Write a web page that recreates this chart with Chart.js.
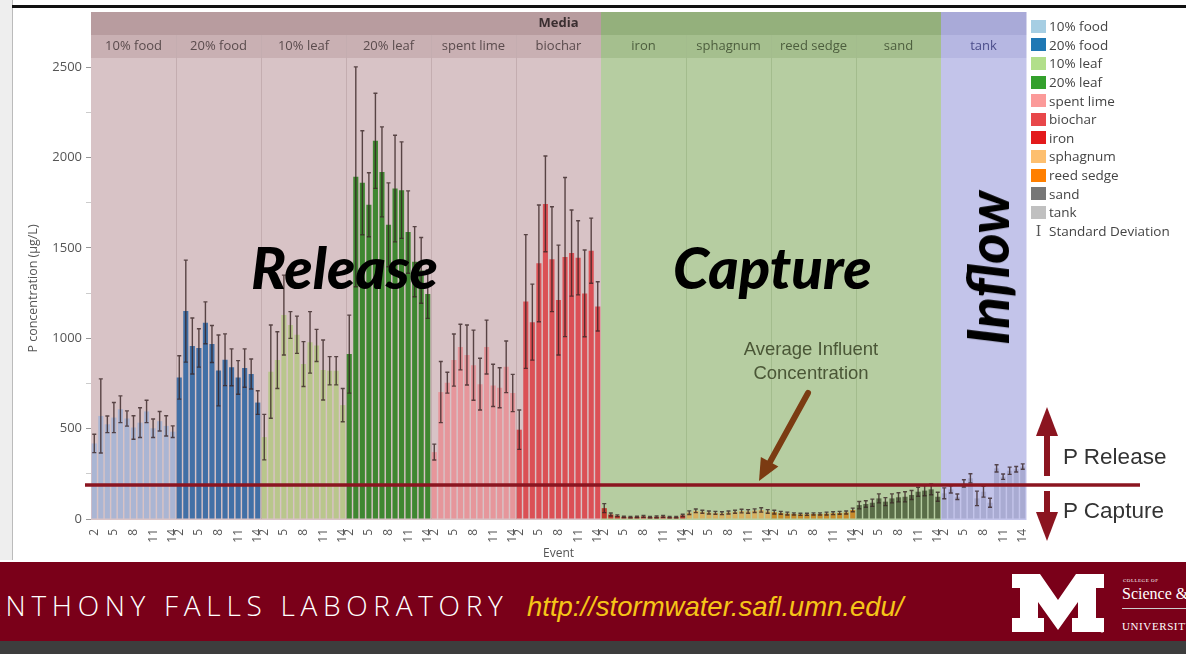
<!DOCTYPE html>
<html><head><meta charset="utf-8">
<script src="https://cdn.jsdelivr.net/npm/chart.js@4"></script>
<style>
html,body{margin:0;padding:0;width:1186px;height:654px;overflow:hidden;background:#fff;font-family:"Open Sans",sans-serif}
#side{position:absolute;left:0;top:0;width:12px;height:560px;background:#eeeeee;border-right:1px solid #bbb}
#topline{position:absolute;left:12px;top:5px;width:1174px;height:3px;background:#111}
#wrap{position:absolute;left:0;top:0;width:1186px;height:565px}
#c{position:absolute;left:0;top:0}
.ov{position:absolute;white-space:nowrap;pointer-events:none}
.big{font-family:Lato,"Open Sans",sans-serif;font-weight:900;font-style:italic;font-size:58px;color:#000;line-height:1}
#legend{position:absolute;left:1031px;top:17px;font-family:"Open Sans",sans-serif;font-size:13.5px;color:#444}
#legend div{height:18.6px;line-height:18px;display:flex;align-items:center}
#legend span.sw{display:inline-block;width:15px;height:13px;margin-right:3px}
#banner{position:absolute;left:0;top:562px;width:1186px;height:79px;background:#7a0019;overflow:hidden}
#bottom{position:absolute;left:0;top:641px;width:1186px;height:13px;background:#3d3d3d}
#afl{position:absolute;left:-17px;top:29px;color:#fff;font-family:"Open Sans",sans-serif;font-weight:300;font-size:28px;letter-spacing:5.7px;line-height:1}
#url{position:absolute;left:527px;top:31px;color:#f5c518;font-family:"Liberation Sans",Arial,sans-serif;font-style:italic;font-size:27.5px;line-height:1}
</style></head>
<body>
<div id="side"></div>
<div id="topline"></div>
<div id="wrap"><canvas id="c" width="1186" height="565"></canvas></div>

<div class="ov big" style="left:251px;top:238px">Release</div>
<div class="ov big" style="left:673px;top:238px">Capture</div>
<div class="ov big" style="left:987px;top:268px;transform:translate(-50%,-50%) rotate(-90deg)">Inflow</div>
<div class="ov" style="left:811px;top:337px;transform:translateX(-50%);text-align:center;font-family:'Liberation Sans',Arial,sans-serif;font-size:18.5px;line-height:24px;color:#4a5636">Average Influent<br>Concentration</div>
<div class="ov" style="left:1063px;top:444px;font-family:'Liberation Sans',Arial,sans-serif;font-size:22.5px;color:#333">P Release</div>
<div class="ov" style="left:1063px;top:498px;font-family:'Liberation Sans',Arial,sans-serif;font-size:22.5px;color:#333">P Capture</div>

<div id="legend"></div>

<div id="banner">
  <div id="afl">ANTHONY FALLS LABORATORY</div>
  <div id="url">http://stormwater.safl.umn.edu/</div>
  <svg style="position:absolute;left:1010px;top:12px" width="96" height="62" viewBox="0 0 96 62">
    <path fill="#fff" d="M2 0 H30 L48 26 L66 0 H94 V14 H86 V44 H94 V58 H62 V44 H68 V28 L48 56 L28 28 V44 H34 V58 H2 V44 H10 V14 H2 Z"/>
    <circle cx="92" cy="57" r="1.6" fill="#fff"/>
  </svg>
  <div class="ov" style="left:1123px;top:16px;color:#fff;font-size:5px;letter-spacing:0.5px;font-family:'Liberation Serif',serif">COLLEGE OF</div>
  <div class="ov" style="left:1122px;top:23px;color:#fff;font-size:16px;font-family:'Liberation Serif',serif">Science &amp;</div>
  <div class="ov" style="left:1122px;top:46px;width:70px;height:1px;background:#ccc"></div>
  <div class="ov" style="left:1122px;top:58px;color:#fff;font-size:11px;letter-spacing:0.6px;font-family:'Liberation Serif',serif">UNIVERSITY</div>
</div>
<div id="bottom"></div>

<script>
// ---------- data ----------
const media = ['10% food','20% food','10% leaf','20% leaf','spent lime','biochar','iron','sphagnum','reed sedge','sand','tank'];
const events = [2,3,4,5,6,7,8,9,10,11,12,13,14];
const shownEvents = [2,5,8,11,14];
const yTickValues = [0,250,500,750,1000,1250,1500,1750,2000,2250,2500];
const yTickLabels = [0,500,1000,1500,2000,2500];

const food10   = [418,570,524,561,607,556,506,533,595,502,541,515,483];
const food10Sd = [51,205,46,83,74,42,65,82,62,51,54,56,32];
const food20   = [783,1150,957,946,1085,968,822,881,839,783,835,802,644];
const food20Sd = [120,282,155,106,116,102,196,143,102,93,106,83,65];
const leaf10   = [453,815,879,1128,1073,1019,857,977,960,824,820,820,630];
const leaf10Sd = [126,258,157,221,74,103,124,170,89,166,78,78,92];
const leaf20   = [912,1893,1860,1738,2092,1920,1627,1828,1819,1587,1423,1375,1244];
const leaf20Sd = [216,608,288,177,263,249,232,295,267,228,194,182,134];
const lime     = [370,702,754,879,951,907,851,746,951,739,726,842,697];
const limeSd   = [44,169,58,144,126,166,194,143,149,117,111,143,103];
const biochar  = [494,1203,1089,1414,1743,1437,1211,1449,1471,1445,1248,1484,1176];
const biocharSd= [109,370,210,323,265,290,304,440,238,205,240,180,136];
const iron     = [60,25,18,12,10,12,14,10,12,14,10,10,20];
const ironSd   = [25,8,5,4,4,4,5,4,5,5,4,4,6];
const sphagnum = [35,45,40,36,34,32,36,40,44,42,46,50,42];
const sphagnumSd=[10,10,8,8,8,8,8,8,10,10,10,12,10];
const reed     = [38,34,30,28,26,26,28,28,30,32,34,36,50];
const reedSd   = [10,8,8,6,6,6,6,6,8,8,8,8,10];
const sand     = [77,83,90,114,96,114,120,123,133,151,157,164,123];
const sandSd   = [20,18,20,25,22,25,25,28,25,25,28,30,25];
const tank     = [142,164,123,197,225,114,151,90,280,234,267,275,290];
const tankSd   = [30,20,15,20,25,40,30,25,20,15,20,15,15];
const avgInfluent = 188;

const means = [food10,food20,leaf10,leaf20,lime,biochar,iron,sphagnum,reed,sand,tank];
const sds   = [food10Sd,food20Sd,leaf10Sd,leaf20Sd,limeSd,biocharSd,ironSd,sphagnumSd,reedSd,sandSd,tankSd];

// ---------- styles ----------
const barColors = ['#aab5d3','#4270a6','#b9c68c','#3f8731','#e6969b','#db5055','#c0392b','#d8b060','#c88a2a','#5a6e48','#a9abd2'];
const legendColors = ['#a6cee3','#1f78b4','#b2df8a','#33a02c','#fb9a99','#e8474a','#e31a1c','#fdbf6f','#ff7f00','#777777','#c0c0c0'];
const panelKind = [0,0,0,0,0,0,1,1,1,1,2];
const panelBg  = ['#d8c3c6','#b6cda1','#c3c4ea'];
const headTop  = ['#b89c9f','#94b07c','#a9aad8'];
const headSub  = ['#c9b0b3','#a5bf8e','#b6b7e2'];
const sepCol   = ['#c4adb0','#a3bc8d','#adaede'];
const headTxt  = ['#5a4b4d','#4d5e3e','#4a4c8a'];

const n = events.length;
const labels = [];
media.forEach(m => events.forEach(e => labels.push(m + '|' + e)));

const datasets = media.map((m, g) => {
  const d = new Array(labels.length).fill(null);
  means[g].forEach((v, j) => d[g * n + j] = v);
  return {label: m, data: d, backgroundColor: barColors[g], grouped: false,
          categoryPercentage: 1, barPercentage: 0.78};
});

// legend
const lg = document.getElementById('legend');
media.forEach((m, g) => {
  lg.insertAdjacentHTML('beforeend', `<div><span class="sw" style="background:${legendColors[g]}"></span>${m}</div>`);
});
lg.insertAdjacentHTML('beforeend', `<div><span style="display:inline-block;width:15px;margin-right:3px;text-align:center;font-family:'DejaVu Serif',serif;font-size:14px;color:#555">I</span>Standard Deviation</div>`);

const isMajor = v => yTickLabels.includes(Math.round(v));

const panels = {
  id: 'panels',
  beforeDatasetsDraw(chart) {
    const {ctx, chartArea: {top, bottom}, scales: {x}} = chart;
    const step = x.getPixelForValue(1) - x.getPixelForValue(0);
    const hTop = 12, hMid = 35;
    media.forEach((m, g) => {
      const k = panelKind[g];
      const x0 = x.getPixelForValue(g * n) - step / 2;
      const x1 = x.getPixelForValue(g * n + n - 1) + step / 2;
      ctx.save();
      ctx.fillStyle = headTop[k]; ctx.fillRect(x0, hTop, x1 - x0 + 0.5, hMid - hTop);
      ctx.fillStyle = headSub[k]; ctx.fillRect(x0, hMid, x1 - x0 + 0.5, top - hMid);
      ctx.fillStyle = panelBg[k]; ctx.fillRect(x0, top, x1 - x0 + 0.5, bottom - top + 1);
      if (g > 0 && panelKind[g - 1] === k) {
        ctx.strokeStyle = sepCol[k]; ctx.lineWidth = 1;
        ctx.beginPath(); ctx.moveTo(Math.round(x0) + 0.5, hMid); ctx.lineTo(Math.round(x0) + 0.5, bottom); ctx.stroke();
      }
      ctx.fillStyle = headTxt[k];
      ctx.font = '13px "Open Sans", sans-serif';
      ctx.textAlign = 'center'; ctx.textBaseline = 'middle';
      ctx.fillText(m, (x0 + x1) / 2, (hMid + top) / 2);
      ctx.restore();
    });
    const xl = x.getPixelForValue(0) - step / 2;
    const xr = x.getPixelForValue(labels.length - 1) + step / 2;
    ctx.save();
    ctx.fillStyle = '#3a2e30';
    ctx.font = 'bold 13px "Open Sans", sans-serif';
    ctx.textAlign = 'center'; ctx.textBaseline = 'middle';
    ctx.fillText('Media', (xl + xr) / 2, (hTop + hMid) / 2);
    ctx.restore();
  },
  afterDatasetsDraw(chart) {
    const {ctx, scales: {y}} = chart;
    ctx.save();
    ctx.strokeStyle = 'rgba(55,35,35,0.8)';
    ctx.lineWidth = 1.4;
    media.forEach((m, g) => {
      const meta = chart.getDatasetMeta(g);
      means[g].forEach((v, j) => {
        const el = meta.data[g * n + j];
        if (!el) return;
        const sd = sds[g][j];
        const xp = el.x;
        const yt = y.getPixelForValue(v + sd), yb = y.getPixelForValue(Math.max(0, v - sd));
        ctx.beginPath();
        ctx.moveTo(xp, yt); ctx.lineTo(xp, yb);
        ctx.moveTo(xp - 2, yt); ctx.lineTo(xp + 2, yt);
        ctx.moveTo(xp - 2, yb); ctx.lineTo(xp + 2, yb);
        ctx.stroke();
      });
    });
    ctx.restore();
  },
  afterDraw(chart) {
    const {ctx, scales: {y}} = chart;
    ctx.save();
    const ya = y.getPixelForValue(avgInfluent);
    ctx.strokeStyle = '#8b1520'; ctx.lineWidth = 3.5;
    ctx.beginPath(); ctx.moveTo(85, ya); ctx.lineTo(1140, ya); ctx.stroke();
    ctx.strokeStyle = '#7b3b12'; ctx.fillStyle = '#7b3b12'; ctx.lineWidth = 6; ctx.lineCap = 'round';
    const ax0 = 808, ay0 = 393, ax1 = 770, ay1 = 462;
    ctx.beginPath(); ctx.moveTo(ax0, ay0); ctx.lineTo(ax1, ay1); ctx.stroke();
    const ang = Math.atan2(ay1 - ay0, ax1 - ax0);
    const tipX = 759, tipY = 481;
    ctx.beginPath();
    ctx.moveTo(tipX, tipY);
    ctx.lineTo(tipX - 22 * Math.cos(ang) + 10 * Math.sin(ang), tipY - 22 * Math.sin(ang) - 10 * Math.cos(ang));
    ctx.lineTo(tipX - 22 * Math.cos(ang) - 10 * Math.sin(ang), tipY - 22 * Math.sin(ang) + 10 * Math.cos(ang));
    ctx.closePath(); ctx.fill();
    ctx.fillStyle = '#8b1520'; ctx.strokeStyle = '#8b1520'; ctx.lineWidth = 6; ctx.lineCap = 'butt';
    ctx.beginPath(); ctx.moveTo(1047, 476); ctx.lineTo(1047, 425); ctx.stroke();
    ctx.beginPath(); ctx.moveTo(1047, 407); ctx.lineTo(1058, 436); ctx.lineTo(1036, 436); ctx.closePath(); ctx.fill();
    ctx.beginPath(); ctx.moveTo(1047, 491); ctx.lineTo(1047, 522); ctx.stroke();
    ctx.beginPath(); ctx.moveTo(1047, 541); ctx.lineTo(1058, 512); ctx.lineTo(1036, 512); ctx.closePath(); ctx.fill();
    ctx.restore();
  }
};

Chart.defaults.font.family = '"Open Sans", sans-serif';
new Chart(document.getElementById('c'), {
  type: 'bar',
  data: {labels, datasets},
  options: {
    responsive: false, animation: false,
    layout: {padding: {left: 12, top: 58, right: 160, bottom: 0}},
    plugins: {legend: {display: false}, tooltip: {enabled: false}},
    scales: {
      x: {
        grid: {display: false}, border: {display: false},
        ticks: {autoSkip: false, minRotation: 90, maxRotation: 90, padding: 2, color: '#555', font: {size: 12},
          callback: (v, i) => shownEvents.includes(events[i % n]) ? String(events[i % n]) : ''},
        title: {display: true, text: 'Event', color: '#555', font: {size: 12}, padding: {top: 0, bottom: 4}},
        afterFit: s => { s.height = 46; }
      },
      y: {
        min: 0, max: 2550,
        afterBuildTicks: s => { s.ticks = yTickValues.map(v => ({value: v})); },
        ticks: {autoSkip: false, color: '#555', font: {size: 13}, padding: 4,
          callback: v => isMajor(v) ? String(Math.round(v)) : ''},
        grid: {drawOnChartArea: false, tickLength: 5,
          color: c => (c.tick && isMajor(c.tick.value)) ? '#999' : '#ccc'},
        border: {display: true, color: '#ddd'},
        title: {display: true, text: 'P concentration (µg/L)', color: '#555', font: {size: 12.5}, padding: {top: 14, bottom: 0}},
        afterFit: s => { s.width = 79; }
      }
    }
  },
  plugins: [panels]
});
</script>
</body></html>
